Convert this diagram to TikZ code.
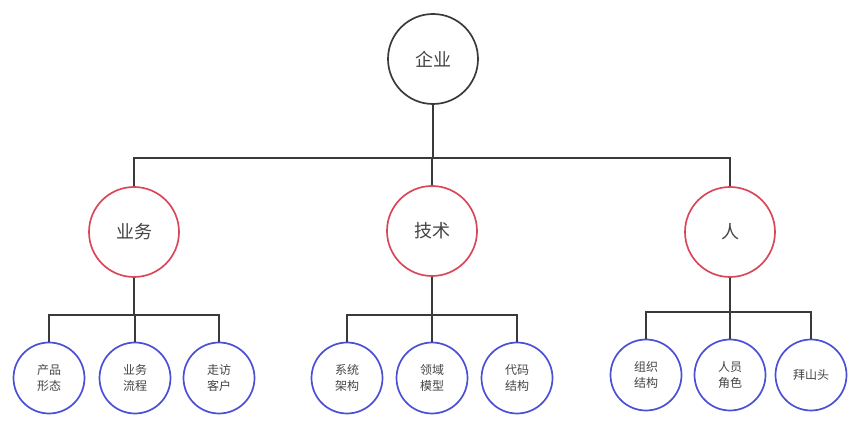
\documentclass[tikz,border=0pt]{standalone}
\usepackage{fontspec}
\setmainfont{Noto Sans CJK SC}
\usetikzlibrary{positioning}
\definecolor{ink}{HTML}{3A3A3A}
\definecolor{txt}{HTML}{444444}
\definecolor{redline}{HTML}{D9475A}
\definecolor{blueline}{HTML}{4A4FD6}

\begin{document}
\begin{tikzpicture}[
  x=1pt, y=-1pt,
  every node/.style={text=txt},
  topcirc/.style={circle, draw=ink, line width=1.7pt, minimum size=90pt,
                  font=\fontsize{18}{20}\selectfont},
  midcirc/.style={circle, draw=redline, line width=1.7pt, minimum size=90pt,
                  font=\fontsize{18}{20}\selectfont},
  leafcirc/.style={circle, draw=blueline, line width=1.7pt, minimum size=71pt,
                   align=center, inner sep=0pt, font=\fontsize{12}{16}\selectfont},
  conn/.style={draw=ink, line width=1.7pt}
]
\useasboundingbox (0,0) rectangle (854,427);

% Root and the three branches.
\node[topcirc] (qy) at (433,59) {企业};
\node[midcirc] (yw) at (134,232) {业务};
\node[midcirc] (js) at (432,231) {技术};
\node[midcirc] (ren) at (730,232) {人};

% Bars where the connectors split.
\coordinate (b0) at (433,158);
\coordinate (bA) at (134,315);
\coordinate (bB) at (432,315);
\coordinate (bC) at (730,312);

\foreach \m in {yw,js,ren}
  \draw[conn] (qy.south) -- (b0) -| (\m.north);

% Leaves of each branch.
\foreach \n/\x/\t in {a1/49/{产品\\形态}, a2/135/{业务\\流程}, a3/219/{走访\\客户}} {
  \node[leafcirc] (\n) at (\x,378) {\t};
  \draw[conn] (yw.south) -- (bA) -| (\n.north);
}
\foreach \n/\x/\t in {b1/347/{系统\\架构}, b2/432/{领域\\模型}, b3/517/{代码\\结构}} {
  \node[leafcirc] (\n) at (\x,378) {\t};
  \draw[conn] (js.south) -- (bB) -| (\n.north);
}
\foreach \n/\x/\t in {c1/646/{组织\\结构}, c2/730/{人员\\角色}, c3/811/{拜山头}} {
  \node[leafcirc] (\n) at (\x,375) {\t};
  \draw[conn] (ren.south) -- (bC) -| (\n.north);
}

\end{tikzpicture}
\end{document}
